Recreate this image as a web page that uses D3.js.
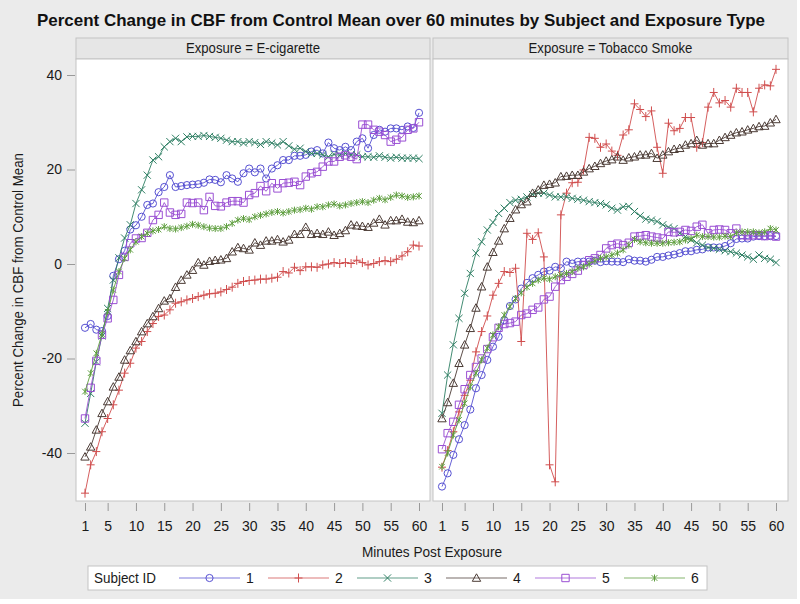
<!DOCTYPE html>
<html><head><meta charset="utf-8">
<script src="https://cdn.jsdelivr.net/npm/d3@7/dist/d3.min.js"></script>
<style>body{margin:0;background:#fff}svg{display:block}</style>
</head><body>
<svg id="chart" width="800" height="604"></svg>
<script>
// ---------------- DATA ----------------
const minutes = d3.range(1, 61);
const xTicks = [1, 5, 10, 15, 20, 25, 30, 35, 40, 45, 50, 55, 60];
const yTicks = [-40, -20, 0, 20, 40];
const exposures = ["E-cigarette", "Tobacco Smoke"];
const subjects = ["1", "2", "3", "4", "5", "6"];
const subjectColors = ["#5650d2", "#d04e4e", "#2f7f64", "#4b3b35", "#9a4fd3", "#5e9e3e"];
const subjectMarkers = ["circle", "plus", "x", "triangle", "square", "star"];

// E-cigarette exposure
const ecig1 = [-13.5,-12.7,-13.9,-14.2,-11.0,-2.5,1.0,2.8,7.3,8.2,10.0,12.5,12.8,15.2,16.3,18.8,16.3,16.5,16.7,16.8,16.9,17.2,17.9,17.8,17.3,18.8,18.1,17.4,19.2,20.2,19.4,20.2,18.1,20.2,20.9,22.0,22.0,22.9,22.9,23.1,23.8,24.1,23.4,25.7,24.5,24.1,24.8,24.1,25.9,26.6,24.5,27.3,28.4,28.0,28.7,28.7,28.4,29.1,28.8,32.0];
const ecig2 = [-48.5,-42.5,-39.7,-35.5,-32.7,-29.8,-26.7,-23.1,-21.0,-17.8,-16.4,-14.3,-12.6,-11.1,-10.8,-9.7,-8.3,-8.0,-7.6,-7.3,-6.9,-6.6,-6.3,-6.2,-5.9,-5.4,-4.9,-4.1,-3.7,-3.5,-3.4,-3.2,-3.2,-3.0,-2.8,-1.6,-1.9,-0.7,-1.4,-0.6,-0.6,-0.7,-0.2,0.0,0.3,0.1,0.3,0.1,0.8,0.3,-0.2,0.1,0.5,0.7,0.5,1.0,1.7,2.6,4.0,3.8];
const ecig3 = [-33.7,-27.4,-20.7,-15.2,-9.4,-3.4,1.3,5.5,8.3,12.8,15.7,18.8,22.0,22.7,24.8,25.9,26.6,25.9,26.9,27.0,27.0,27.2,27.0,26.8,26.6,26.2,25.9,25.9,25.6,25.9,25.7,25.3,25.9,25.6,25.2,25.9,25.0,24.3,24.5,23.8,23.4,23.4,23.1,22.7,23.2,23.0,23.4,23.1,23.1,22.7,22.7,22.6,22.9,22.6,22.4,22.6,22.4,22.4,22.4,22.3];
const ecig4 = [-40.8,-38.7,-35.1,-31.6,-29.1,-26.0,-23.9,-20.3,-18.3,-16.4,-14.3,-12.6,-11.1,-9.4,-7.8,-7.3,-4.9,-3.4,-2.3,-1.3,0.3,-0.2,0.6,0.8,0.9,1.2,2.6,3.5,3.3,3.0,4.5,4.0,4.9,4.9,5.2,4.7,5.1,6.3,6.3,7.8,6.3,6.5,6.3,6.8,6.1,6.5,7.1,8.3,8.1,8.0,7.8,8.7,9.5,8.3,9.2,9.2,9.5,8.9,8.8,9.2];
const ecig5 = [-32.7,-26.2,-20.5,-15.0,-11.5,-7.6,-2.3,1.5,4.4,5.4,5.5,6.6,9.3,10.4,13.0,10.9,10.4,10.6,13.0,12.9,13.0,11.4,14.2,12.3,12.2,13.0,13.3,13.3,13.0,14.6,15.0,16.5,15.4,17.1,16.0,17.1,17.2,17.4,16.7,18.5,19.2,19.5,20.6,21.7,21.7,22.7,23.0,22.7,22.2,29.5,29.5,28.4,28.0,27.3,25.9,26.3,26.8,28.4,28.7,30.0];
const ecig6 = [-27.0,-23.1,-18.9,-14.8,-10.1,-5.5,-1.6,1.2,3.0,4.7,5.8,6.5,7.0,7.3,7.9,7.5,7.4,7.7,8.0,8.4,8.2,7.9,7.6,7.5,7.5,7.9,8.6,9.3,9.6,9.4,10.0,10.3,10.6,10.9,11.1,10.8,11.1,11.4,11.5,11.8,11.6,12.1,12.1,12.5,12.7,12.3,12.5,12.8,13.0,13.2,13.0,13.5,13.9,13.6,14.1,14.6,14.4,14.1,14.2,14.4];

// Tobacco smoke exposure
const tob1 = [-47.1,-44.3,-40.4,-37.1,-34.1,-30.8,-26.3,-23.5,-20.3,-17.5,-15.4,-11.9,-8.9,-7.5,-5.2,-4.0,-3.0,-2.3,-1.6,-1.4,-0.6,-0.9,0.5,0.1,0.5,0.5,0.5,0.7,0.4,0.6,0.5,0.5,0.4,1.0,0.7,0.7,0.5,0.9,1.5,1.5,1.8,2.0,2.3,2.7,2.7,3.0,3.1,3.5,3.5,3.5,3.8,4.4,5.3,5.4,5.4,5.8,5.9,5.9,5.9,5.9];
const tob2 = [-43.0,-39.5,-35.5,-31.3,-27.8,-24.6,-18.6,-14.3,-11.0,-6.6,-4.1,-1.6,-1.8,-0.9,-16.4,6.5,5.2,6.6,1.5,-42.5,-46.1,10.4,15.0,17.2,17.3,19.9,26.8,26.6,24.7,25.4,23.9,23.0,27.3,28.4,33.9,32.7,31.2,32.4,24.7,19.2,29.8,28.2,28.7,31.0,31.0,24.7,25.7,33.2,36.3,34.1,34.6,33.2,37.2,36.3,36.3,32.2,37.2,37.9,37.7,41.2];
const tob3 = [-31.6,-23.5,-17.1,-11.5,-6.2,-2.0,2.3,4.7,7.2,8.8,10.7,11.8,13.0,13.5,13.7,14.2,14.7,15.0,15.0,14.6,14.2,14.2,14.2,13.9,13.7,13.5,13.2,13.0,12.8,12.5,11.8,11.4,12.1,12.2,11.1,10.2,9.5,9.3,9.0,8.3,7.8,7.5,6.5,5.8,5.1,4.5,4.0,3.5,3.3,3.1,2.8,2.6,2.3,1.9,1.5,1.0,1.9,1.2,1.0,0.3];
const tob4 = [-32.7,-29.3,-25.2,-21.0,-17.1,-13.6,-9.3,-4.8,-0.6,2.5,4.9,7.5,9.7,11.5,12.6,13.2,15.0,15.7,16.7,16.9,17.2,18.5,18.6,18.8,18.8,19.5,20.2,20.7,21.3,21.8,22.1,22.7,22.0,22.5,22.7,23.1,23.1,23.4,22.4,23.1,23.8,24.3,24.5,25.2,25.5,26.2,25.2,25.5,25.5,26.2,26.8,27.3,27.8,28.0,28.4,28.7,29.1,29.2,29.9,30.6];
const tob5 = [-39.2,-35.8,-33.4,-29.8,-26.5,-23.5,-21.8,-20.0,-18.0,-15.5,-13.5,-12.7,-12.5,-12.2,-10.8,-10.5,-9.7,-9.2,-7.5,-6.9,-4.8,-3.4,-2.7,-2.1,-1.4,-0.2,0.8,1.2,1.9,3.3,4.0,4.3,4.0,4.5,5.8,5.9,6.1,5.8,5.6,5.4,6.8,6.7,6.8,7.2,7.0,7.9,8.3,6.5,7.2,7.3,7.2,6.5,7.5,6.1,5.9,6.1,6.1,5.9,6.1,5.8];
const tob6 = [-42.9,-40.0,-36.2,-33.0,-29.5,-26.0,-23.1,-20.3,-17.8,-15.0,-13.3,-10.8,-9.0,-7.3,-6.1,-4.9,-4.1,-3.4,-3.0,-3.2,-2.7,-2.3,-2.0,-1.6,-0.9,-0.6,0.0,0.7,1.2,1.5,1.9,2.3,3.0,4.0,5.2,4.7,4.5,4.4,4.4,4.4,4.5,4.6,4.7,5.1,5.4,6.1,5.8,5.8,5.7,5.7,5.9,5.8,6.6,6.8,6.8,6.8,6.6,6.8,7.5,7.2];

const panelData = [
  [ecig1, ecig2, ecig3, ecig4, ecig5, ecig6],
  [tob1, tob2, tob3, tob4, tob5, tob6]
];

// ---------------- LAYOUT ----------------
const svg = d3.select("#chart");
const FONT = "'Liberation Sans', Arial, sans-serif";
const plotTop = 59, plotBottom = 501;
const panels = [{x0: 76, x1: 430}, {x0: 433, x1: 788}];
const headerTop = 38;
const TXT = "#1a1a1a";
const plainFmt = d => String(d);

// background
svg.append("rect").attr("x", 0).attr("y", 0).attr("width", 797).attr("height", 599).attr("fill", "#ebebeb");

// title
svg.append("text").attr("x", 401).attr("y", 26).attr("text-anchor", "middle")
  .attr("font-family", FONT).attr("font-weight", "bold").attr("font-size", 17).attr("fill", "#111")
  .attr("textLength", 728).attr("lengthAdjust", "spacingAndGlyphs")
  .text("Percent Change in CBF from Control Mean over 60 minutes by Subject and Exposure Type");

const y = d3.scaleLinear().domain([-40, 40]).range([453, 75]);

function markerPath(type) {
  switch (type) {
    case "plus": return "M-4,0H4M0,-4.5V4.5";
    case "x": return "M-3.6,-3.6L3.6,3.6M-3.6,3.6L3.6,-3.6";
    case "triangle": return "M0,-4.2L4.2,3.3H-4.2Z";
    case "square": return "M-3.7,-3.7H3.7V3.7H-3.7Z";
    case "star": return "M-2.8,-2.8L2.8,2.8M-2.8,2.8L2.8,-2.8M0,-3.5V3.5";
    default: return null;
  }
}
function drawMarker(g, type, cx, cy, color) {
  if (type === "circle") {
    g.append("circle").attr("cx", cx).attr("cy", cy).attr("r", 3.6)
      .attr("fill", "none").attr("stroke", color).attr("stroke-width", 1);
  } else {
    g.append("path").attr("d", markerPath(type)).attr("transform", `translate(${cx},${cy})`)
      .attr("fill", "none").attr("stroke", color).attr("stroke-width", 1);
  }
}

panels.forEach((p, pi) => {
  const x = d3.scaleLinear().domain([1, 60]).range([p.x0 + 9, p.x0 + 343]);
  // header
  svg.append("rect").attr("x", p.x0).attr("y", headerTop).attr("width", p.x1 - p.x0).attr("height", plotTop - headerTop)
    .attr("fill", "#e6e6e6").attr("stroke", "#c4c4c4").attr("stroke-width", 1);
  svg.append("text").attr("x", (p.x0 + p.x1) / 2).attr("y", headerTop + 15.5).attr("text-anchor", "middle")
    .attr("font-family", FONT).attr("font-size", 14).attr("fill", TXT)
    .attr("transform", `translate(${(p.x0 + p.x1) / 2},0) scale(0.94,1) translate(${-(p.x0 + p.x1) / 2},0)`)
    .text("Exposure = " + exposures[pi]);
  // plot area
  svg.append("rect").attr("x", p.x0).attr("y", plotTop).attr("width", p.x1 - p.x0).attr("height", plotBottom - plotTop)
    .attr("fill", "#fff").attr("stroke", "#c4c4c4").attr("stroke-width", 1);

  // x axis
  const xAxis = d3.axisBottom(x).tickValues(xTicks).tickSize(8).tickPadding(10).tickFormat(plainFmt);
  const gx = svg.append("g").attr("transform", `translate(0,${plotBottom + 2})`).call(xAxis);
  gx.select(".domain").remove();
  gx.selectAll(".tick line").attr("stroke", "#999");
  gx.selectAll(".tick text").attr("font-family", FONT).attr("font-size", 14).attr("fill", TXT);

  // y axis (left panel only)
  if (pi === 0) {
    const yAxis = d3.axisLeft(y).tickValues(yTicks).tickSize(8).tickPadding(5).tickFormat(plainFmt);
    const gy = svg.append("g").attr("transform", `translate(${p.x0 - 1},0)`).call(yAxis);
    gy.select(".domain").remove();
    gy.selectAll(".tick line").attr("stroke", "#999");
    gy.selectAll(".tick text").attr("font-family", FONT).attr("font-size", 14).attr("fill", TXT);
  }

  // series
  const clipId = "clip" + pi;
  svg.append("clipPath").attr("id", clipId).append("rect")
    .attr("x", p.x0).attr("y", plotTop).attr("width", p.x1 - p.x0).attr("height", plotBottom - plotTop);
  const gs = svg.append("g").attr("clip-path", `url(#${clipId})`);
  const line = d3.line().x((d, i) => x(minutes[i])).y(d => y(d));
  panelData[pi].forEach((vals, si) => {
    const color = subjectColors[si];
    gs.append("path").datum(vals).attr("d", line).attr("fill", "none")
      .attr("stroke", color).attr("stroke-width", 1).attr("stroke-opacity", 0.9);
    const gm = gs.append("g");
    vals.forEach((v, i) => drawMarker(gm, subjectMarkers[si], x(minutes[i]), y(v), color));
  });
});

// axis titles
svg.append("text").attr("transform", `translate(23,${(plotTop + plotBottom) / 2}) rotate(-90)`)
  .attr("text-anchor", "middle").attr("font-family", FONT).attr("font-size", 14).attr("fill", TXT)
  .attr("textLength", 254).attr("lengthAdjust", "spacingAndGlyphs")
  .text("Percent Change in CBF from Control Mean");
svg.append("text").attr("x", 432).attr("y", 557).attr("text-anchor", "middle")
  .attr("font-family", FONT).attr("font-size", 14).attr("fill", TXT)
  .attr("textLength", 140).attr("lengthAdjust", "spacingAndGlyphs")
  .text("Minutes Post Exposure");

// legend
const lg = svg.append("g");
lg.append("rect").attr("x", 88).attr("y", 566).attr("width", 619).attr("height", 24)
  .attr("fill", "#fff").attr("stroke", "#c4c4c4");
lg.append("text").attr("x", 94).attr("y", 583).attr("font-family", FONT).attr("font-size", 14).attr("fill", TXT)
  .attr("textLength", 62).attr("lengthAdjust", "spacingAndGlyphs")
  .text("Subject ID");
subjects.forEach((s, i) => {
  const lx = 179 + i * 89;
  const color = subjectColors[i];
  lg.append("line").attr("x1", lx).attr("x2", lx + 61).attr("y1", 578).attr("y2", 578)
    .attr("stroke", color).attr("stroke-width", 1.2).attr("stroke-opacity", 0.75);
  drawMarker(lg, subjectMarkers[i], lx + 30.5, 578, color);
  lg.append("text").attr("x", lx + 67).attr("y", 583).attr("font-family", FONT).attr("font-size", 14).attr("fill", TXT)
    .text(s);
});
</script>
</body></html>
